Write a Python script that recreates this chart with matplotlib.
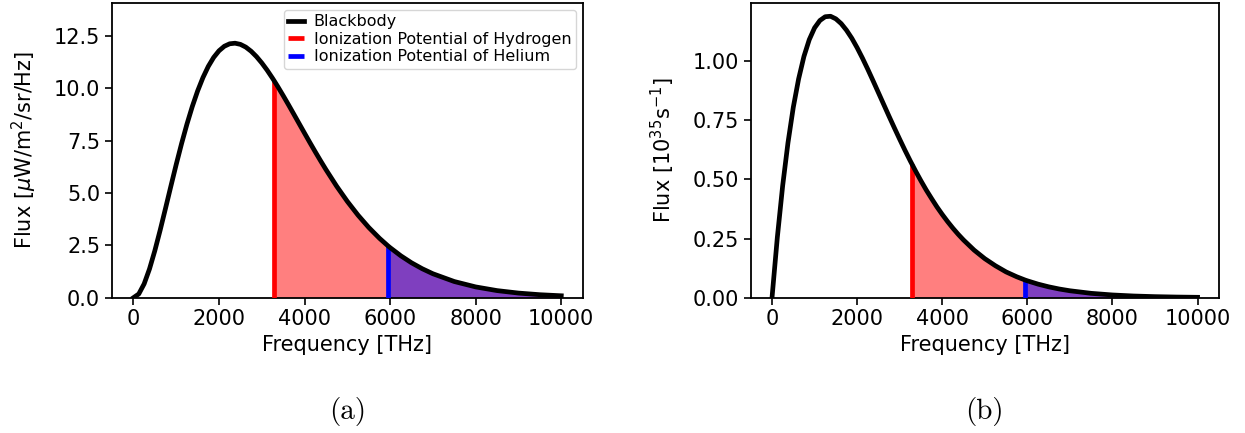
import matplotlib
matplotlib.use("Agg")
import matplotlib.pyplot as plt
import numpy as np

plt.rcParams['mathtext.fontset'] = 'dejavusans'

# frequency samples [THz]
freq = [0, 125, 250, 375, 500, 625, 750, 875, 1000, 1125, 1250, 1375, 1500,
        1625, 1750, 1875, 2000, 2125, 2250, 2375, 2500, 2625, 2750, 2875,
        3000, 3125, 3250, 3288, 3375, 3500, 3625, 3750, 3875, 4000, 4125,
        4250, 4375, 4500, 4750, 5000, 5250, 5500, 5750, 5948, 6000, 6250,
        6500, 6750, 7000, 7500, 8000, 8500, 9000, 9500, 10000]

# (a) spectral radiance [uW/m^2/sr/Hz]
flux_a = [0.0, 0.178, 0.659, 1.369, 2.243, 3.225, 4.265, 5.321, 6.360, 7.353,
          8.278, 9.119, 9.864, 10.505, 11.039, 11.464, 11.782, 11.998, 12.116,
          12.143, 12.088, 11.958, 11.761, 11.506, 11.201, 10.856, 10.475,
          10.354, 10.069, 9.642, 9.202, 8.752, 8.299, 7.847, 7.399, 6.959,
          6.529, 6.111, 5.318, 4.592, 3.936, 3.351, 2.836, 2.475, 2.387,
          1.999, 1.665, 1.382, 1.142, 0.771, 0.514, 0.338, 0.220, 0.142, 0.091]

# (b) photon flux [1e35 1/s]
flux_b = [0.0, 0.255, 0.473, 0.655, 0.805, 0.925, 1.020, 1.091, 1.141, 1.172,
          1.188, 1.190, 1.179, 1.159, 1.131, 1.097, 1.057, 1.013, 0.966,
          0.917, 0.867, 0.817, 0.767, 0.718, 0.670, 0.623, 0.578, 0.565,
          0.535, 0.494, 0.455, 0.419, 0.384, 0.352, 0.322, 0.294, 0.268,
          0.244, 0.201, 0.165, 0.135, 0.109, 0.0885, 0.0746, 0.0714, 0.0574,
          0.0460, 0.0367, 0.0293, 0.0184, 0.0115, 0.0071, 0.0044, 0.0027, 0.0016]

nu_H = 3288   # 13.6 eV
nu_He = 5948  # 24.6 eV

freq = np.array(freq)
panels = [
    (np.array(flux_a), r'Flux [$\mu$W/m$^2$/sr/Hz]', 14.05, '(a)'),
    (np.array(flux_b), r'Flux [$10^{35}$s$^{-1}$]', 1.245, '(b)'),
]

fig = plt.figure(figsize=(12.45, 4.33), dpi=100)
axes = [fig.add_axes([0.090, 0.3125, 0.378, 0.680]),
        fig.add_axes([0.603, 0.3125, 0.376, 0.680])]

for ax, (flux, ylab, ytop, tag) in zip(axes, panels):
    iH = list(freq).index(nu_H)
    iHe = list(freq).index(nu_He)
    ax.plot(freq, flux, color='k', lw=3.4, label='Blackbody', zorder=5,
            solid_joinstyle='round')
    ax.fill_between(freq[iH:], 0, flux[iH:], color='red', alpha=0.5, lw=0)
    ax.fill_between(freq[iHe:], 0, flux[iHe:], color='blue', alpha=0.5, lw=0)
    ax.vlines(nu_H, 0, flux[iH], color='red', lw=3.4,
              label='Ionization Potential of Hydrogen', zorder=4)
    ax.vlines(nu_He, 0, flux[iHe], color='blue', lw=3.4,
              label='Ionization Potential of Helium', zorder=4)
    ax.set_xlim(-500, 10500)
    ax.set_ylim(0, ytop)
    ax.set_xticks(range(0, 10001, 2000))
    ax.tick_params(labelsize=15, width=1.2, length=5)
    for s in ax.spines.values():
        s.set_linewidth(1.3)
    ax.set_xlabel('Frequency [THz]', fontsize=15)
    ax.set_ylabel(ylab, fontsize=15, labelpad=11)
    bb = ax.get_position()
    fig.text((bb.x0 + bb.x1) / 2, 0.05, tag, ha='center', va='center',
             fontsize=21, family='cmr10')

axes[0].set_yticks([0, 2.5, 5, 7.5, 10, 12.5])
axes[1].set_yticks([0, 0.25, 0.5, 0.75, 1.0])
axes[1].yaxis.set_major_formatter(matplotlib.ticker.FormatStrFormatter('%.2f'))
axes[0].yaxis.set_major_formatter(matplotlib.ticker.FormatStrFormatter('%.1f'))

axes[0].legend(loc='upper right', fontsize=11.5, handlelength=1.0,
               borderaxespad=0.4, labelspacing=0.15, handletextpad=0.6,
               borderpad=0.3)

fig.savefig('out.png', dpi=100)
